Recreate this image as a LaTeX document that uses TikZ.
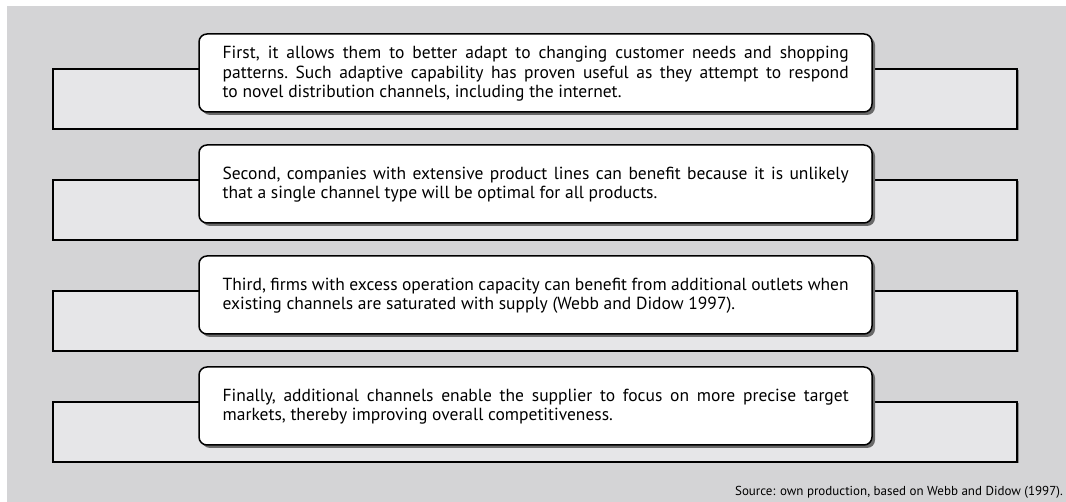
\documentclass[tikz,border=0pt]{standalone}
\usepackage{fontspec}
\setmainfont{PT Sans}
\usetikzlibrary{shadows}
\definecolor{panelgray}{RGB}{212,212,214}
\definecolor{barfill}{RGB}{230,230,232}
\definecolor{cardshadow}{RGB}{105,105,105}
\definecolor{barshadow}{RGB}{140,140,140}
% justified card paragraphs: forced breaks, no hyphenation, even spacing
\newcommand{\cardpar}{\frenchspacing\hyphenpenalty=10000 \exhyphenpenalty=10000 \tolerance=10000
  \spaceskip=0.27em plus 0.35em minus 0.12em\relax}
\begin{document}
\begin{tikzpicture}[x=1pt,y=-1pt,
  bar/.style={draw=black, line width=1.3pt, fill=barfill,
    minimum width=964pt, minimum height=60pt, inner sep=0pt,
    drop shadow={shadow xshift=1.5pt, shadow yshift=-1.5pt, fill=barshadow, opacity=1}},
  card/.style={draw=black, line width=1.5pt, fill=white, rounded corners=8pt,
    minimum width=673pt, minimum height=78pt, inner sep=0pt,
    drop shadow={shadow xshift=3pt, shadow yshift=-3pt, fill=cardshadow, opacity=1}},
  cardtext/.style={anchor=west, align=justify, text width=626pt, inner sep=0pt,
    font=\fontsize{17.5}{19.5}\selectfont\cardpar},
  source/.style={anchor=base east, inner sep=0pt, font=\fontsize{13}{16}\selectfont}]

% canvas and grey panel
\useasboundingbox (0,0) rectangle (1066,502);
\fill[white] (0,0) rectangle (1066,502);
\fill[panelgray] (7,6) rectangle (1066,502);

% row 1
\node[bar]  (bar1)  at (535,99) {};
\node[card] (card1) at (535.5,73) {};
\node[cardtext] (t1) at (222.5,74) {First, it allows them to better adapt to changing customer needs and shopping\linebreak
patterns. Such adaptive capability has proven useful as they attempt to respond\linebreak
to novel distribution channels, including the internet.};

% row 2
\node[bar]  (bar2)  at (535,210) {};
\node[card] (card2) at (535.5,184) {};
\node[cardtext] (t2) at (222.5,184.5) {Second, companies with extensive product lines can benefit because it is unlikely\linebreak
that a single channel type will be optimal for all products.};

% row 3
\node[bar]  (bar3)  at (535,321) {};
\node[card] (card3) at (535.5,295) {};
\node[cardtext] (t3) at (222.5,295.5) {Third, firms with excess operation capacity can benefit from additional outlets when\linebreak
existing channels are saturated with supply (Webb and Didow 1997).};

% row 4
\node[bar]  (bar4)  at (535,432) {};
\node[card] (card4) at (535.5,406) {};
\node[cardtext] (t4) at (222.5,406.5) {Finally, additional channels enable the supplier to focus on more precise target\linebreak
markets, thereby improving overall competitiveness.};

% source line
\node[source] (src) at (1063,496) {Source: own production, based on Webb and Didow (1997).};
\end{tikzpicture}
\end{document}
